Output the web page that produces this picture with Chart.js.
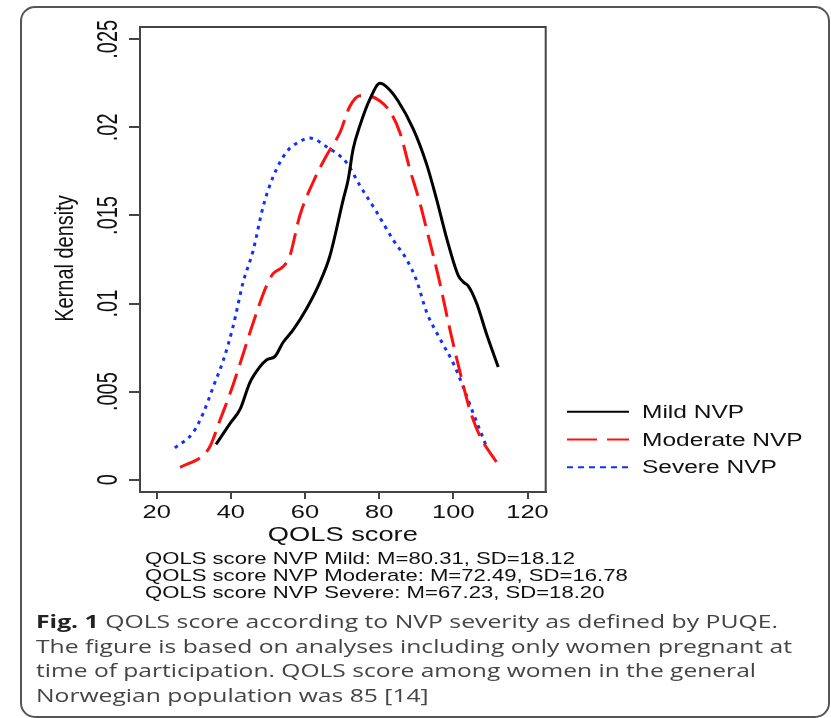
<!DOCTYPE html>
<html>
<head>
<meta charset="utf-8">
<script src="https://cdn.jsdelivr.net/npm/chart.js@4.4.1/dist/chart.umd.min.js"></script>
<style>
  html, body { margin: 0; padding: 0; background: #fff; }
  #wrap { position: relative; width: 831px; height: 718px; }
</style>
</head>
<body>
<div id="wrap"><canvas id="densityChart" width="831" height="718"></canvas></div>
<script>
// kernel density curves
const mildX = [36, 39.8, 42.5, 45.1, 47.8, 49.6, 51.9, 54.1, 56.8, 60.4, 64, 66.7, 70.3, 71.6, 73, 74.8, 77.5, 80.2, 82, 85.1, 89.2, 92.8, 95.5, 98.2, 101.3, 102.8, 104, 106.3, 108.9, 112.1];
const mildY = [.0020, .0032, .0040, .0055, .0064, .0068, .0070, .0078, .0085, .0097, .0112, .0127, .0159, .0170, .0188, .0201, .0216, .0225, .0223, .0215, .0199, .0179, .0159, .0137, .0116, .0112, .0110, .0100, .0083, .0064];

const moderateX = [26.3, 32.6, 34.4, 37.1, 39.8, 42.5, 46, 49.6, 51.4, 54.1, 55.9, 58.6, 62.2, 65.8, 69.4, 72.1, 74.8, 76.6, 80.2, 82.9, 85.6, 88.3, 91, 92.8, 96, 99.1, 101.8, 104.4, 107.1, 111.6];
const moderateY = [.0007, .0014, .0019, .0034, .0049, .0066, .0089, .0110, .0117, .0121, .0127, .0150, .0169, .0184, .0197, .0212, .0218, .0218, .0215, .0209, .0197, .0176, .0157, .0142, .0115, .0085, .0061, .0040, .0025, .0010];

const severeX = [24.9, 29.9, 32.6, 35.3, 38, 40.6, 43.3, 46, 48.7, 51.4, 55, 58.6, 61.3, 65.8, 71.2, 74.8, 79.3, 83.8, 87.4, 90.1, 92.8, 96.4, 100, 102.6, 105.3, 108.9];
const severeY = [.0018, .0027, .0038, .0053, .0068, .0087, .0112, .0130, .0155, .0172, .0186, .0192, .0194, .0189, .0180, .0167, .0152, .0136, .0125, .0113, .0095, .0080, .0066, .0053, .0038, .0019];

const xTicks = [20, 40, 60, 80, 100, 120];
const yTicks = [0, .005, .01, .015, .02, .025];
const yTickLabels = ["0", ".005", ".01", ".015", ".02", ".025"];

const seriesNames = ["Mild NVP", "Moderate NVP", "Severe NVP"];
const statLines = [
  "QOLS score NVP Mild: M=80.31, SD=18.12",
  "QOLS score NVP Moderate: M=72.49, SD=16.78",
  "QOLS score NVP Severe: M=67.23, SD=18.20"
];
const captionBold = "Fig. 1";
const captionLines = [
  " QOLS score according to NVP severity as defined by PUQE.",
  "The figure is based on analyses including only women pregnant at",
  "time of participation. QOLS score among women in the general",
  "Norwegian population was 85 [14]"
];

const colors = ["#000000", "#ff1010", "#1030ff"];
const dashes = [[], [22, 9], [3.5, 5]];

function points(xs, ys) {
  return xs.map((x, i) => ({ x, y: ys[i] }));
}

// text in the original figure is stretched horizontally
function stretchedText(ctx, text, x, y, font, sx, align, rotated) {
  ctx.save();
  ctx.translate(x, y);
  ctx.scale(sx, 1);
  if (rotated) ctx.rotate(-Math.PI / 2);
  ctx.font = font;
  ctx.textAlign = align;
  ctx.textBaseline = "alphabetic";
  ctx.fillText(text, 0, 0);
  ctx.restore();
}

const decorations = {
  id: "decorations",
  beforeDraw(chart) {
    const ctx = chart.ctx;
    ctx.save();
    ctx.strokeStyle = "#555";
    ctx.lineWidth = 2;
    ctx.beginPath();
    ctx.roundRect(21, 7, 808, 710, 14);
    ctx.stroke();
    ctx.restore();
  },
  afterDraw(chart) {
    const ctx = chart.ctx;
    const area = chart.chartArea;
    const xs = chart.scales.x;
    const ys = chart.scales.y;

    // top and right edges of the plot box
    ctx.save();
    ctx.strokeStyle = "#444";
    ctx.lineWidth = 2;
    ctx.beginPath();
    ctx.moveTo(area.left, area.top);
    ctx.lineTo(area.right, area.top);
    ctx.lineTo(area.right, area.bottom);
    ctx.stroke();
    ctx.restore();

    ctx.save();
    ctx.fillStyle = "#111";
    const sans = "'Liberation Sans', Arial, sans-serif";

    // y tick labels, rotated
    yTicks.forEach((v, i) => {
      stretchedText(ctx, yTickLabels[i], 117, ys.getPixelForValue(v), "20px " + sans, 1.5, "center", true);
    });
    stretchedText(ctx, "Kernal density", 73, (area.top + area.bottom) / 2 - 1, "20px " + sans, 1.3, "center", true);

    // x tick labels
    xTicks.forEach((v) => {
      stretchedText(ctx, String(v), xs.getPixelForValue(v), 518, "18.6px " + sans, 1.37, "center", false);
    });
    stretchedText(ctx, "QOLS score", (area.left + area.right) / 2, 540.5, "20.5px " + sans, 1.33, "center", false);

    // summary lines
    statLines.forEach((t, i) => {
      stretchedText(ctx, t, 145, 564 + i * 16.8, "17px " + sans, 1.3, "left", false);
    });

    // legend
    const legendY = [411.7, 439.5, 467.3];
    const legendDash = [[], [30, 10], [6, 5]];
    seriesNames.forEach((name, i) => {
      ctx.save();
      ctx.strokeStyle = colors[i];
      ctx.lineWidth = 2;
      ctx.setLineDash(legendDash[i]);
      ctx.beginPath();
      ctx.moveTo(567, legendY[i]);
      ctx.lineTo(629, legendY[i]);
      ctx.stroke();
      ctx.restore();
      stretchedText(ctx, name, 642, legendY[i] + 6, "17.5px " + sans, 1.4, "left", false);
    });
    ctx.restore();

    // caption
    const cap = "'Open Sans', 'Noto Sans', sans-serif";
    const capFont = "18.5px " + cap;
    const left = 36;
    const rights = [778, 792, 756, null];
    const baselines = [628, 652.5, 677, 701.5];
    ctx.save();
    ctx.font = "bold " + capFont;
    const boldW = ctx.measureText(captionBold).width;
    ctx.font = capFont;
    const scales = captionLines.map((t, i) => {
      if (rights[i] === null) return null;
      const w = ctx.measureText(t).width + (i === 0 ? boldW : 0);
      return (rights[i] - left) / w;
    });
    scales[3] = (scales[0] + scales[1] + scales[2]) / 3;
    ctx.restore();

    ctx.save();
    ctx.fillStyle = "#222";
    stretchedText(ctx, captionBold, left, baselines[0], "bold " + capFont, scales[0], "left", false);
    ctx.fillStyle = "#444";
    captionLines.forEach((t, i) => {
      const x = i === 0 ? left + boldW * scales[0] : left;
      stretchedText(ctx, t, x, baselines[i], capFont, scales[i], "left", false);
    });
    ctx.restore();
  }
};

new Chart(document.getElementById("densityChart"), {
  type: "line",
  data: {
    datasets: [
      { label: seriesNames[0], data: points(mildX, mildY) },
      { label: seriesNames[1], data: points(moderateX, moderateY) },
      { label: seriesNames[2], data: points(severeX, severeY) }
    ].map((d, i) => ({
      ...d,
      borderColor: colors[i],
      borderDash: dashes[i],
      borderWidth: 3,
      pointRadius: 0,
      fill: false,
      cubicInterpolationMode: "monotone"
    }))
  },
  options: {
    responsive: false,
    animation: false,
    layout: { padding: { left: 110, top: 27, right: 285.3, bottom: 196 } },
    plugins: {
      legend: { display: false },
      tooltip: { enabled: false }
    },
    scales: {
      x: {
        type: "linear",
        min: 15.5,
        max: 124.9,
        afterBuildTicks: (scale) => { scale.ticks = xTicks.map((v) => ({ value: v })); },
        afterFit: (scale) => { scale.height = 30; },
        ticks: { display: false },
        grid: { drawOnChartArea: false, drawTicks: true, tickLength: 7, color: "#444", lineWidth: 2 },
        border: { display: true, color: "#444", width: 2 }
      },
      y: {
        type: "linear",
        min: -0.0007,
        max: 0.0257,
        afterBuildTicks: (scale) => { scale.ticks = yTicks.map((v) => ({ value: v })); },
        afterFit: (scale) => { scale.width = 30; },
        ticks: { display: false },
        grid: { drawOnChartArea: false, drawTicks: true, tickLength: 11, color: "#444", lineWidth: 2 },
        border: { display: true, color: "#444", width: 2 }
      }
    }
  },
  plugins: [decorations]
});
</script>
</body>
</html>
